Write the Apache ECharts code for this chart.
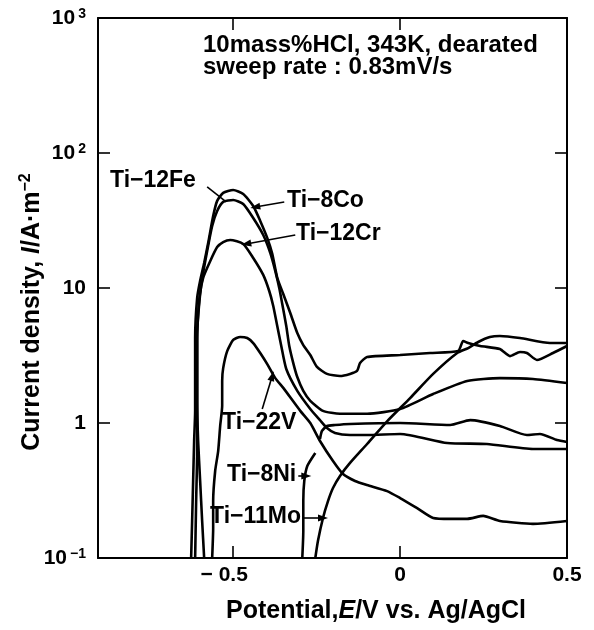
<!DOCTYPE html>
<html><head><meta charset="utf-8">
<script src="https://cdn.jsdelivr.net/npm/echarts@6/dist/echarts.min.js"></script>
<style>html,body{margin:0;padding:0;background:#fff}#c{width:594px;height:630px}</style>
</head><body><div id="c"></div>
<script>
// ---- data (Potential E in V vs Ag/AgCl, current density I in A/m2) ----
const xTicks = [-0.5, 0, 0.5];
const xTopTicks = [-0.5, 0];
const yTickLabels = ['10{s|−1}', '1', '10', '10{s|2}', '10{s|3}'];

const ti8Co = [[-0.626,0.1],[-0.623,0.188],[-0.620,0.372],[-0.617,0.736],[-0.614,1.23],[-0.614,2.43],[-0.614,4.26],[-0.608,8.43],[-0.599,11.3],[-0.587,15.3],[-0.575,21.5],[-0.560,34.1],[-0.548,44.2],[-0.530,50.6],[-0.500,53.2],[-0.470,49.7],[-0.440,40.5],[-0.419,31.4],[-0.398,23.5],[-0.383,17.9],[-0.368,11.9],[-0.350,9.03],[-0.329,6.53],[-0.308,4.64],[-0.290,3.78],[-0.269,3.19],[-0.249,2.60],[-0.219,2.31],[-0.180,2.23],[-0.150,2.31],[-0.129,2.43],[-0.120,2.78],[-0.099,3.08],[0,3.19],[0.090,3.30],[0.174,3.41],[0.189,4.05],[0.204,3.91],[0.240,3.72],[0.299,3.53],[0.329,3.13],[0.359,3.36],[0.380,3.30],[0.410,2.93],[0.458,3.30],[0.5,3.72]];

const ti12Fe = [[-0.614,0.1],[-0.611,0.264],[-0.608,0.62],[-0.608,1.46],[-0.608,4.05],[-0.602,8.01],[-0.590,12.9],[-0.578,18.8],[-0.563,28.8],[-0.548,37.2],[-0.530,43.4],[-0.500,44.9],[-0.470,41.9],[-0.440,33.0],[-0.410,24.7],[-0.389,18.2],[-0.374,13.4],[-0.362,10.0],[-0.353,7.61],[-0.341,5.23],[-0.332,3.72],[-0.320,2.78],[-0.308,2.19],[-0.290,1.73],[-0.269,1.46],[-0.231,1.23],[-0.180,1.17],[-0.099,1.17],[0,1.27],[0.099,1.64],[0.201,2.05],[0.299,2.15],[0.398,2.12],[0.5,1.98]];

const ti12Cr = [[-0.587,0.1],[-0.593,0.188],[-0.599,0.372],[-0.605,0.736],[-0.608,1.46],[-0.608,4.26],[-0.599,9.03],[-0.590,11.9],[-0.569,15.8],[-0.548,20.1],[-0.530,21.9],[-0.509,22.7],[-0.470,21.2],[-0.440,16.7],[-0.410,12.5],[-0.392,9.5],[-0.380,7.36],[-0.368,5.23],[-0.356,3.72],[-0.341,2.51],[-0.308,1.73],[-0.269,1.27],[-0.240,1.05],[-0.219,0.918],[-0.195,0.843],[-0.150,0.815],[-0.099,0.815],[0,0.829],[0.141,0.711],[0.260,0.699],[0.398,0.642],[0.5,0.642]];

const ti22V = [[-0.563,0.1],[-0.560,0.167],[-0.560,0.264],[-0.554,0.441],[-0.545,0.62],[-0.539,0.95],[-0.533,1.34],[-0.533,2.05],[-0.530,2.55],[-0.518,3.41],[-0.500,4.12],[-0.479,4.34],[-0.458,4.26],[-0.440,3.91],[-0.419,3.30],[-0.398,2.73],[-0.374,2.15],[-0.350,1.82],[-0.299,1.23],[-0.269,1.0],[-0.240,0.736],[-0.201,0.523],[-0.171,0.419],[-0.135,0.372],[-0.099,0.347],[-0.039,0.313],[0,0.278],[0.051,0.234],[0.099,0.198],[0.150,0.195],[0.201,0.195],[0.249,0.205],[0.299,0.188],[0.398,0.179],[0.5,0.188]];

const ti8Ni = [[-0.293,0.1],[-0.290,0.158],[-0.290,0.264],[-0.287,0.372],[-0.278,0.48],[-0.254,0.60],[-0.247,null],[-0.240,0.761],[-0.234,0.873],[-0.219,0.95],[-0.195,0.966],[-0.150,0.983],[0,1.0],[0.150,0.966],[0.210,1.05],[0.299,0.95],[0.380,0.815],[0.419,0.829],[0.470,0.748],[0.5,0.723]];

const ti11Mo = [[-0.254,0.1],[-0.246,0.134],[-0.231,0.198],[-0.216,0.264],[-0.201,0.330],[-0.180,0.405],[-0.150,0.506],[-0.099,0.699],[-0.039,1.03],[0.030,1.53],[0.099,2.31],[0.171,3.30],[0.204,3.59],[0.234,3.98],[0.269,4.33],[0.299,4.41],[0.359,4.26],[0.449,3.91],[0.5,3.91]];

// label leader lines / arrows, in data coordinates: [from, to]
const arrowCo = [[-0.347,43.4],[-0.434,39.8]];
const arrowCr = [[-0.314,24.7],[-0.461,21.2]];
const leaderFe = [[-0.578,56],[-0.521,43.4]];
const arrowV = [[-0.413,1.27],[-0.383,2.23]];
const arrowNi = [[-0.305,0.405],[-0.281,0.405]];
const arrowMo = [[-0.290,0.198],[-0.231,0.198]];

// ---- chart ----
const FF = 'Liberation Sans, Arial, Helvetica, sans-serif';
const chart = echarts.init(document.getElementById('c'));
const axisLineStyle = {color:'#000', width:2};
const tickStyle = {color:'#000', width:1.6};
function curve(name, data, extra){
  return Object.assign({name, type:'line', data, symbol:'none', smooth:0.2, clip:true,
    lineStyle:{color:'#000', width:2.6}, itemStyle:{color:'#000'}, emphasis:{disabled:true}, silent:true}, extra||{});
}
function ml(pair, arrow){
  return [{coord:pair[0], symbol:'none'}, {coord:pair[1], symbol: arrow ? 'triangle' : 'none', symbolSize:[7,10]}];
}
const textBase = {fill:'#000', fontFamily:FF, fontWeight:'bold', fontSize:23, align:'left', verticalAlign:'middle'};
function label(text, x, y){ return {type:'text', x, y, silent:true, style:Object.assign({}, textBase, {text})}; }

chart.setOption({
  animation:false,
  backgroundColor:'#fff',
  grid:{left:98, right:27, top:18, bottom:72},
  xAxis:[{
    type:'value', min:-0.905, max:0.5, position:'bottom',
    axisLine:{onZero:false, lineStyle:axisLineStyle},
    axisTick:{inside:true, length:12, customValues:xTicks, lineStyle:tickStyle},
    axisLabel:{customValues:xTicks, color:'#000', fontSize:21, fontWeight:'bold', fontFamily:FF, margin:7,
      formatter:v => v < 0 ? '{n|− ' + Math.abs(v) + '}' : String(v),
      rich:{n:{color:'#000', fontSize:21, fontWeight:'bold', fontFamily:FF, padding:[0,18,0,0]}}},
    splitLine:{show:false}
  },{
    type:'value', min:-0.905, max:0.5, position:'top',
    axisLine:{onZero:false, lineStyle:axisLineStyle},
    axisTick:{inside:true, length:12, customValues:xTopTicks, lineStyle:tickStyle},
    axisLabel:{show:false}, splitLine:{show:false}
  }],
  yAxis:[{
    type:'log', logBase:10, min:0.1, max:1000, position:'left',
    axisLine:{onZero:false, lineStyle:axisLineStyle},
    axisTick:{inside:true, length:12, lineStyle:tickStyle},
    axisLabel:{color:'#000', fontSize:21, fontWeight:'bold', fontFamily:FF, margin:12, lineHeight:22,
      formatter:v => yTickLabels[Math.round(Math.log10(v)) + 1],
      rich:{s:{color:'#000', fontSize:14, fontWeight:'bold', fontFamily:FF, verticalAlign:'top', lineHeight:14, padding:[0,0,0,3]}}},
    splitLine:{show:false}, minorTick:{show:false}
  },{
    type:'log', logBase:10, min:0.1, max:1000, position:'right',
    axisLine:{onZero:false, lineStyle:axisLineStyle},
    axisTick:{inside:true, length:12, lineStyle:tickStyle},
    axisLabel:{show:false}, splitLine:{show:false}
  }],
  series:[
    curve('Ti-8Co', ti8Co, {markLine:{silent:true, animation:false, symbol:['none','triangle'], symbolSize:[7,10], label:{show:false},
      lineStyle:{color:'#000', width:1.6, type:'solid'}, itemStyle:{color:'#000'}, emphasis:{disabled:true},
      data:[ml(arrowCo,true), ml(arrowCr,true), ml(leaderFe,false), ml(arrowV,true), ml(arrowNi,true), ml(arrowMo,true)]}}),
    curve('Ti-12Fe', ti12Fe),
    curve('Ti-12Cr', ti12Cr),
    curve('Ti-22V', ti22V),
    curve('Ti-8Ni', ti8Ni),
    curve('Ti-11Mo', ti11Mo)
  ],
  graphic:{elements:[
    {type:'text', x:203, y:45, silent:true, style:Object.assign({}, textBase, {text:'10mass%HCl, 343K, dearated', fontSize:24})},
    {type:'text', x:203, y:67, silent:true, style:Object.assign({}, textBase, {text:'sweep rate : 0.83mV/s', fontSize:24})},
    label('Ti−12Fe', 110, 181),
    label('Ti−8Co', 287, 201),
    label('Ti−12Cr', 296, 234),
    label('Ti−22V', 222, 423),
    label('Ti−8Ni', 227, 475),
    label('Ti−11Mo', 210, 517),
    {type:'text', x:32, y:312, rotation:Math.PI/2, silent:true, style:{
      text:'{a|Current density, }{i|I}{a|/A·m}{s|−2}', align:'center', verticalAlign:'middle',
      fill:'#000', fontFamily:FF, fontSize:25, fontWeight:'bold',
      rich:{a:{fill:'#000', fontFamily:FF, fontSize:25, fontWeight:'bold', lineHeight:28},
            i:{fill:'#000', fontFamily:FF, fontSize:25, fontWeight:'bold', fontStyle:'italic', lineHeight:28},
            s:{fill:'#000', fontFamily:FF, fontSize:16, fontWeight:'bold', verticalAlign:'top', lineHeight:16}}}},
    {type:'text', x:376, y:611, silent:true, style:{
      text:'{a|Potential,}{i|E}{a|/V vs. Ag/AgCl}', align:'center', verticalAlign:'middle',
      fill:'#000', fontFamily:FF, fontSize:25, fontWeight:'bold',
      rich:{a:{fill:'#000', fontFamily:FF, fontSize:25, fontWeight:'bold'},
            i:{fill:'#000', fontFamily:FF, fontSize:25, fontWeight:'bold', fontStyle:'italic'}}}}
  ]}
});
</script>
</body></html>
